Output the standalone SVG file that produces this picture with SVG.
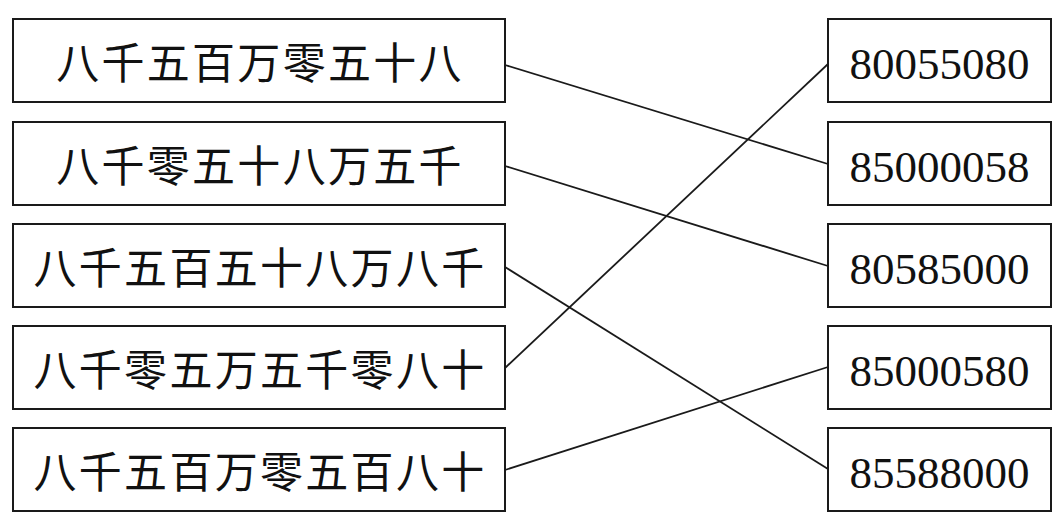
<svg xmlns="http://www.w3.org/2000/svg" width="1064" height="526" viewBox="0 0 1064 526">
<style>
.box{fill:#fff;stroke:#1a1a1a;stroke-width:2}
.cn{font-family:"Noto Sans CJK SC","Noto Sans CJK JP",sans-serif;font-size:43px;letter-spacing:2.3px;fill:#111;text-anchor:middle}
.num{font-family:"Liberation Serif",serif;font-size:45px;fill:#111;text-anchor:middle}
.ln{stroke:#1a1a1a;stroke-width:1.8;fill:none}
</style>
<rect width="1064" height="526" fill="#fff"/>
<g id="left1"><rect class="box" x="13" y="19" width="492" height="83"/><text class="cn" x="260" y="79">八千五百万零五十八</text></g>
<g id="left2"><rect class="box" x="13" y="122" width="492" height="83"/><text class="cn" x="260" y="182">八千零五十八万五千</text></g>
<g id="left3"><rect class="box" x="13" y="224" width="492" height="83"/><text class="cn" x="260" y="284">八千五百五十八万八千</text></g>
<g id="left4"><rect class="box" x="13" y="326" width="492" height="83"/><text class="cn" x="260" y="386">八千零五万五千零八十</text></g>
<g id="left5"><rect class="box" x="13" y="428" width="492" height="83"/><text class="cn" x="260" y="488">八千五百万零五百八十</text></g>
<g id="right1"><rect class="box" x="828" y="19" width="223" height="83"/><text class="num" x="939.5" y="79">80055080</text></g>
<g id="right2"><rect class="box" x="828" y="122" width="223" height="83"/><text class="num" x="939.5" y="182">85000058</text></g>
<g id="right3"><rect class="box" x="828" y="224" width="223" height="83"/><text class="num" x="939.5" y="284">80585000</text></g>
<g id="right4"><rect class="box" x="828" y="326" width="223" height="83"/><text class="num" x="939.5" y="386">85000580</text></g>
<g id="right5"><rect class="box" x="828" y="428" width="223" height="83"/><text class="num" x="939.5" y="488">85588000</text></g>
<g id="connectors">
<line class="ln" x1="505" y1="65" x2="828" y2="164"/>
<line class="ln" x1="505" y1="166" x2="828" y2="266"/>
<line class="ln" x1="505" y1="267" x2="828" y2="469"/>
<line class="ln" x1="505" y1="368" x2="828" y2="64"/>
<line class="ln" x1="505" y1="470" x2="828" y2="367"/>
</g>
</svg>
